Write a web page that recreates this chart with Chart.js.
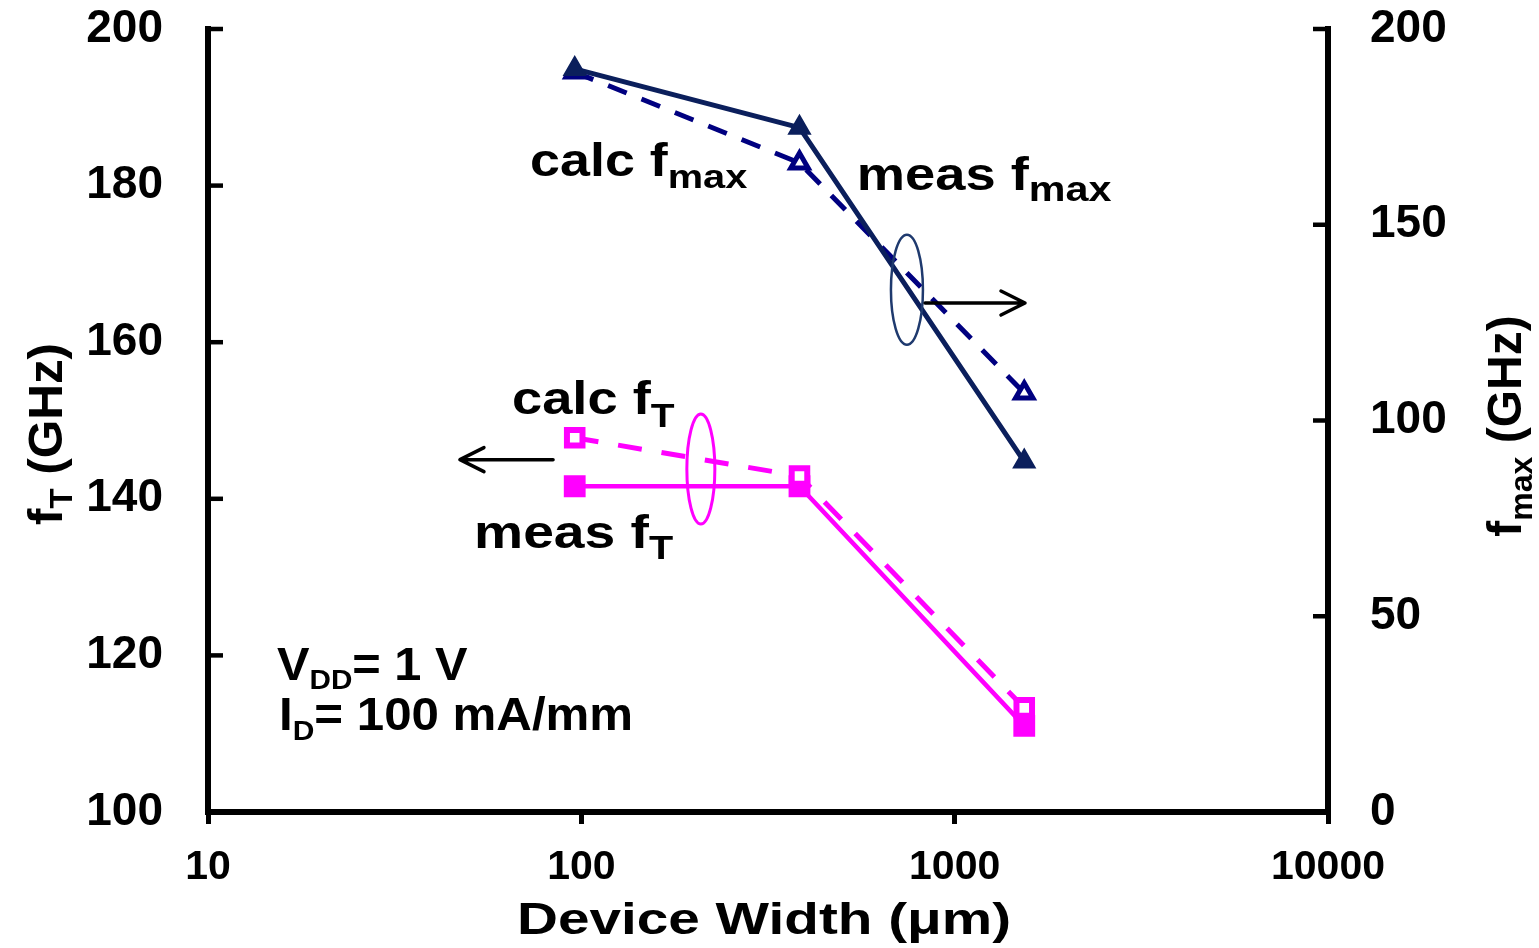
<!DOCTYPE html>
<html>
<head>
<meta charset="utf-8">
<title>fT and fmax vs device width</title>
<script src="https://cdn.jsdelivr.net/npm/chart.js@4/dist/chart.umd.min.js"></script>
<style>
  html, body { margin: 0; padding: 0; background: #ffffff; }
  #wrap { width: 1539px; height: 948px; position: relative; }
</style>
</head>
<body>
<div id="wrap"><canvas id="c" width="1539" height="948"></canvas></div>
<script>
// Device widths (µm)
const widths = [96, 384, 1536];
// Cut-off frequency fT (GHz), left axis
const measFt = [141.6, 141.6, 111.0];
const calcFt = [147.8, 142.9, 113.3];
// Max oscillation frequency fmax (GHz), right axis
const measFmax = [189.8, 174.8, 89.5];
const calcFmax = [189.0, 165.8, 107.0];
// Tick values
const xTicks = [10, 100, 1000, 10000];
const ftTicks = [100, 120, 140, 160, 180, 200];
const fmaxTicks = [0, 50, 100, 150, 200];

const FONT = "'Liberation Sans', Arial, Helvetica, sans-serif";
const NAVY = '#0B1F5C';
const NAVY_DASH = '#000080';
const MAGENTA = '#FF00FF';

const pts = (ys) => widths.map((w, i) => ({ x: w, y: ys[i] }));

// Text with inline subscripts; parts: [{t, size, dy}]
function richText(ctx, x, y, parts, sx, center) {
  ctx.save();
  ctx.translate(x, y);
  ctx.scale(sx, 1);
  let total = 0;
  for (const p of parts) { ctx.font = 'bold ' + p.size + 'px ' + FONT; total += ctx.measureText(p.t).width; }
  let cx = center ? -total / 2 : 0;
  ctx.textBaseline = 'alphabetic';
  ctx.textAlign = 'left';
  ctx.fillStyle = '#000';
  for (const p of parts) {
    ctx.font = 'bold ' + p.size + 'px ' + FONT;
    ctx.fillText(p.t, cx, p.dy || 0);
    cx += ctx.measureText(p.t).width;
  }
  ctx.restore();
}

function arrow(ctx, x1, y1, x2, y2) {
  const dir = Math.sign(x2 - x1);
  ctx.save();
  ctx.strokeStyle = '#000';
  ctx.lineWidth = 3.5;
  ctx.lineCap = 'round';
  ctx.lineJoin = 'round';
  ctx.beginPath();
  ctx.moveTo(x1, y1); ctx.lineTo(x2, y2);
  ctx.moveTo(x2 - dir * 24, y2 - 12); ctx.lineTo(x2, y2); ctx.lineTo(x2 - dir * 24, y2 + 12);
  ctx.stroke();
  ctx.restore();
}

// Inward tick marks on both vertical axes
const innerTicks = {
  id: 'innerTicks',
  afterDraw(chart) {
    const { ctx, chartArea } = chart;
    ctx.save();
    ctx.strokeStyle = '#000';
    ctx.lineWidth = 4.5;
    for (const t of chart.scales.y.ticks) {
      const py = chart.scales.y.getPixelForValue(t.value);
      ctx.beginPath(); ctx.moveTo(chartArea.left, py); ctx.lineTo(chartArea.left + 15, py); ctx.stroke();
    }
    for (const t of chart.scales.y1.ticks) {
      const py = chart.scales.y1.getPixelForValue(t.value);
      ctx.beginPath(); ctx.moveTo(chartArea.right, py); ctx.lineTo(chartArea.right - 15, py); ctx.stroke();
    }
    ctx.restore();
  }
};

// Labels, group ellipses, axis arrows and axis titles
const annotations = {
  id: 'annotations',
  afterDraw(chart) {
    const { ctx } = chart;
    const X = (v) => chart.scales.x.getPixelForValue(v);
    const Y = (v) => chart.scales.y.getPixelForValue(v);

    // group ellipses
    ctx.save();
    ctx.lineWidth = 2.5;
    ctx.strokeStyle = '#1F3A6E';
    ctx.beginPath(); ctx.ellipse(X(745), Y(166.7), 16, 55, 0, 0, Math.PI * 2); ctx.stroke();
    ctx.lineWidth = 3;
    ctx.strokeStyle = MAGENTA;
    ctx.beginPath(); ctx.ellipse(X(209), Y(143.8), 14, 55, 0, 0, Math.PI * 2); ctx.stroke();
    ctx.restore();

    // arrows pointing to the axis each group belongs to
    arrow(ctx, X(833), Y(165.0), X(1543), Y(165.0));
    arrow(ctx, X(84), Y(145.0), X(47.3), Y(145.0));

    // curve labels
    richText(ctx, X(72.9), Y(181.2), [{ t: 'calc f', size: 46 }, { t: 'max', size: 34, dy: 12 }], 1.17);
    richText(ctx, X(547), Y(179.4), [{ t: 'meas f', size: 46 }, { t: 'max', size: 35, dy: 11 }], 1.18);
    richText(ctx, X(65.2), Y(150.8), [{ t: 'calc f', size: 46 }, { t: 'T', size: 33, dy: 13 }], 1.18);
    richText(ctx, X(51.6), Y(133.7), [{ t: 'meas f', size: 46 }, { t: 'T', size: 33, dy: 11 }], 1.2);

    // bias conditions
    richText(ctx, X(15.3), Y(116.9), [{ t: 'V', size: 46 }, { t: 'DD', size: 28, dy: 9 }, { t: '= 1 V', size: 46 }], 1.06);
    richText(ctx, X(15.5), Y(110.5), [{ t: 'I', size: 46 }, { t: 'D', size: 28, dy: 10 }, { t: '= 100 mA/mm', size: 46 }], 1.07);

    // x-axis title
    richText(ctx, 764, 934, [{ t: 'Device Width (\u03BCm)', size: 45 }], 1.26, true);

    // left axis title (rotated)
    ctx.save();
    ctx.translate(62, 434);
    ctx.rotate(-Math.PI / 2);
    richText(ctx, 0, 0, [{ t: 'f', size: 48 }, { t: 'T', size: 32, dy: 10 }, { t: ' (GHz)', size: 48 }], 1.03, true);
    ctx.restore();

    // right axis title (rotated)
    ctx.save();
    ctx.translate(1521, 426);
    ctx.rotate(-Math.PI / 2);
    richText(ctx, 0, 0, [{ t: 'f', size: 48 }, { t: 'max', size: 32, dy: 11 }, { t: ' (GHz)', size: 48 }], 1, true);
    ctx.restore();
  }
};

const tickFont = (s) => ({ family: FONT, size: s, weight: 'bold' });
// keep the plot box fixed: label overhang is absorbed by the canvas margins
const fixVertical = (w) => (s) => { s.width = w; s.paddingTop = 0; s.paddingBottom = 0; };

new Chart(document.getElementById('c'), {
  type: 'line',
  data: {
    datasets: [
      {
        label: 'meas fmax', data: pts(measFmax), yAxisID: 'y1',
        borderColor: NAVY, borderWidth: 5,
        pointStyle: 'triangle', pointRadius: 12, pointBorderWidth: 2,
        pointBackgroundColor: NAVY, pointBorderColor: NAVY
      },
      {
        label: 'calc fmax', data: pts(calcFmax), yAxisID: 'y1',
        borderColor: NAVY_DASH, borderWidth: 5, borderDash: [20, 16],
        pointStyle: 'triangle', pointRadius: 10, pointBorderWidth: 5,
        pointBackgroundColor: '#fff', pointBorderColor: NAVY_DASH
      },
      {
        label: 'calc fT', data: pts(calcFt), yAxisID: 'y',
        borderColor: MAGENTA, borderWidth: 5, borderDash: [24, 20],
        pointStyle: 'rect', pointRadius: 11, pointBorderWidth: 6,
        pointBackgroundColor: '#fff', pointBorderColor: MAGENTA
      },
      {
        label: 'meas fT', data: pts(measFt), yAxisID: 'y',
        borderColor: MAGENTA, borderWidth: 4.5,
        pointStyle: 'rect', pointRadius: 14, pointBorderWidth: 2,
        pointBackgroundColor: MAGENTA, pointBorderColor: MAGENTA
      }
    ]
  },
  options: {
    responsive: false,
    animation: false,
    devicePixelRatio: 1,
    layout: { padding: { top: 29, left: 0, right: 0, bottom: 0 } },
    elements: { line: { tension: 0 } },
    plugins: { legend: { display: false }, tooltip: { enabled: false } },
    scales: {
      x: {
        type: 'logarithmic', position: 'bottom', min: 10, max: 10000,
        afterBuildTicks: (s) => { s.ticks = xTicks.map((v) => ({ value: v })); },
        afterFit: (s) => { s.height = 136; },
        ticks: { callback: (v) => String(v), font: tickFont(41), color: '#000', padding: 19, maxRotation: 0, autoSkip: false },
        grid: { display: true, drawOnChartArea: false, drawTicks: true, tickLength: 12, lineWidth: 5, color: '#000' },
        border: { display: true, width: 6, color: '#000' }
      },
      y: {
        type: 'linear', position: 'left', min: 100, max: 200,
        afterBuildTicks: (s) => { s.ticks = ftTicks.map((v) => ({ value: v })); },
        afterFit: fixVertical(208),
        ticks: { font: tickFont(46), color: '#000', padding: 45 },
        grid: { display: false, drawTicks: false },
        border: { display: true, width: 6, color: '#000' }
      },
      y1: {
        type: 'linear', position: 'right', min: 0, max: 200,
        afterBuildTicks: (s) => { s.ticks = fmaxTicks.map((v) => ({ value: v })); },
        afterFit: fixVertical(211),
        ticks: { font: tickFont(46), color: '#000', padding: 42 },
        grid: { display: false, drawTicks: false },
        border: { display: true, width: 6, color: '#000' }
      }
    }
  },
  plugins: [innerTicks, annotations]
});
</script>
</body>
</html>
